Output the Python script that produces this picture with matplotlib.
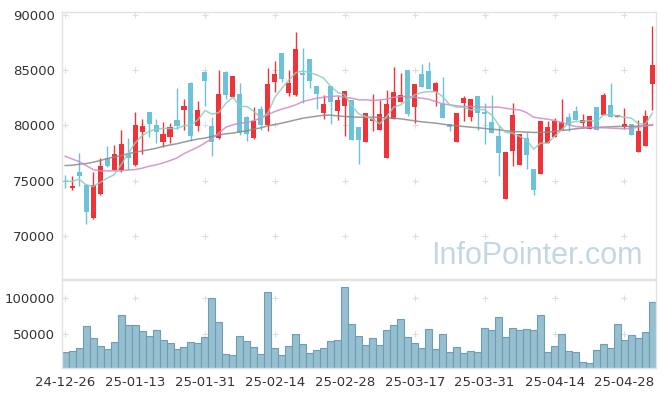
import numpy as np
import matplotlib
matplotlib.use("Agg")
import matplotlib.pyplot as plt

# Daily candles (open / high / low / close)
opens = [75000, 74300, 75800, 74650, 71600, 73800, 77080, 76000, 76000, 77450,
         76450, 79370, 81240, 80030, 78470, 78950, 80510, 81360, 83880, 79910,
         84870, 79970, 78860, 84870, 82620, 82860, 80750, 78860, 81480, 80060,
         83940, 86530, 82980, 82770, 84720, 85990, 83580, 81170, 83580, 81350,
         81780, 82320, 79880, 78460, 80450, 79550, 77020, 80630, 82170, 85030,
         81660, 84670, 84970, 83070, 81960, 80150, 78460, 82020, 80810, 82680,
         81200, 80330, 79070, 73350, 77650, 76390, 78890, 76060, 75640, 78400,
         78950, 79550, 80750, 81320, 80210, 79670, 81660, 80960, 81840, 80750,
         79850, 80120, 77590, 78160, 83760]
highs = [75550, 75400, 77500, 74700, 75800, 77050, 78100, 78230, 79600, 78900,
         81240, 80570, 81250, 80570, 80270, 80210, 83370, 82380, 83900, 82230,
         84900, 80800, 85020, 84960, 84480, 83820, 80900, 81660, 81720, 85170,
         85800, 86530, 85020, 88420, 86980, 86000, 83600, 82770, 83600, 82680,
         83130, 82350, 79900, 81110, 82830, 82320, 83220, 85270, 84730, 85050,
         83760, 85570, 85780, 83970, 84420, 80150, 81110, 82680, 82380, 82680,
         82020, 82770, 79910, 77620, 82020, 79250, 79370, 76060, 80390, 80450,
         80660, 82380, 81110, 81720, 81050, 80870, 81660, 82980, 83820, 80930,
         81540, 80120, 80510, 81410, 89000]
lows = [74350, 74200, 74560, 71100, 71500, 73700, 76240, 75950, 75750, 76000,
        76300, 77390, 78950, 78400, 78050, 78400, 79670, 79600, 78560, 79460,
        81780, 77200, 78800, 82380, 82620, 79160, 78560, 78800, 79610, 79460,
        83070, 83900, 82680, 82700, 82020, 83370, 81470, 80570, 80150, 80510,
        79010, 78650, 76510, 78460, 79460, 79550, 77020, 80630, 82170, 80870,
        80210, 83460, 83280, 81780, 80690, 79460, 78460, 80360, 80360, 79610,
        78280, 79310, 75450, 73350, 76300, 76390, 76060, 73740, 75640, 78400,
        78950, 79550, 79460, 80510, 79730, 79670, 79610, 80960, 80750, 80750,
        79670, 79100, 77590, 78160, 81410]
closes = [74900, 74500, 75400, 72150, 74650, 76350, 76360, 77450, 78350, 77030,
          80060, 79970, 80090, 79370, 79250, 79850, 79910, 81780, 79070, 81420,
          84030, 78470, 82860, 82770, 84480, 79310, 79190, 80450, 80060, 83760,
          84630, 84180, 83820, 86890, 84540, 84060, 82860, 81960, 82170, 82320,
          83130, 78650, 78650, 81110, 80600, 81050, 81960, 83040, 82770, 81050,
          83760, 83520, 83280, 83820, 80690, 79850, 81110, 82500, 82380, 81170,
          81080, 79310, 77470, 77620, 80930, 79250, 77320, 74130, 80390, 79850,
          80390, 80330, 80060, 80510, 80510, 80870, 79610, 82770, 80750, 80930,
          80150, 79100, 79520, 80870, 85480]

# Moving average lines as drawn on the chart
ma_short = [74990, 74930, 75140, 74630, 74480, 74840, 75230, 75530, 76430, 77450,
            78400, 79070, 79460, 79670, 79730, 79730, 79730, 79970, 80060, 80510,
            81360, 81020, 81180, 82020, 82560, 81720, 81720, 81270, 80670, 81120,
            82560, 83370, 84120, 84780, 84930, 84790, 84580, 84270, 83520, 83000,
            82770, 81780, 81050, 80810, 80570, 80150, 80810, 81660, 81870, 82320,
            82770, 82980, 83070, 83070, 82620, 81870, 81660, 81660, 81410, 81470,
            81410, 80960, 80060, 79370, 79310, 79010, 78710, 77860, 78400, 78400,
            79010, 79610, 80210, 80360, 80360, 80450, 80360, 80960, 80960, 80870,
            80750, 80660, 80150, 80150, 81110]
ma_mid = [77210, 76970, 76730, 76370, 76010, 75890, 75890, 75890, 75890, 75980,
          76010, 76130, 76310, 76430, 76610, 76820, 77060, 77450, 77750, 78050,
          78410, 78830, 79310, 79850, 80060, 80210, 80270, 80450, 80670, 80960,
          81270, 81480, 81660, 81870, 82170, 82320, 82470, 82560, 82620, 82680,
          82560, 82470, 82320, 82320, 82260, 82320, 82380, 82560, 82620, 82620,
          82560, 82470, 82380, 82170, 81960, 81870, 81780, 81720, 81720, 81660,
          81660, 81660, 81660, 81560, 81470, 81410, 81170, 80750, 80660, 80570,
          80450, 80270, 80060, 79910, 79850, 79850, 79790, 79790, 79760, 79730,
          79700, 79730, 79850, 79970, 80090]
ma_long = [76370, 76400, 76490, 76550, 76670, 76820, 77000, 77150, 77270, 77450,
           77570, 77690, 77810, 77930, 78110, 78230, 78350, 78500, 78650, 78770,
           78860, 79010, 79130, 79250, 79310, 79430, 79520, 79670, 79790, 79970,
           80090, 80210, 80360, 80510, 80660, 80750, 80840, 80930, 80930, 80870,
           80810, 80780, 80750, 80750, 80750, 80720, 80690, 80660, 80600, 80510,
           80420, 80330, 80270, 80210, 80120, 80030, 79970, 79910, 79850, 79790,
           79730, 79670, 79610, 79520, 79460, 79430, 79400, 79370, 79370, 79400,
           79460, 79550, 79610, 79700, 79760, 79790, 79820, 79850, 79880, 79910,
           79910, 79910, 79940, 79970, 80030]

volumes = [25470, 26850, 31020, 61120, 44450, 33340, 29630, 39360, 76400, 62500,
           62500, 54630, 47690, 55560, 42130, 37500, 29630, 32410, 39360, 37970,
           45840, 100000, 67140, 22220, 20840, 47230, 40740, 32410, 22220, 108340,
           31020, 20840, 33340, 50000, 36580, 23610, 28240, 31020, 40740, 42130,
           115290, 64360, 47230, 34730, 44450, 34730, 55560, 62500, 70840, 45840,
           37500, 30560, 56950, 29630, 50000, 25000, 31950, 23610, 26390, 25000,
           58340, 55560, 73620, 45840, 58340, 55560, 56950, 55560, 76400, 25000,
           33340, 50000, 26390, 25000, 11110, 9720, 27780, 36110, 30560, 63890,
           41670, 48610, 44450, 52780, 94450]

date_ticks = [0, 10, 20, 30, 40, 50, 60, 70, 80]
date_labels = ["24-12-26", "25-01-13", "25-01-31", "25-02-14", "25-02-28",
               "25-03-17", "25-03-31", "25-04-14", "25-04-28"]
price_ticks = [70000, 75000, 80000, 85000, 90000]
volume_ticks = [50000, 100000]

UP = "#ef3338"
DOWN = "#6cc3d9"
FRAME = "#e2e2e2"
TEXT = "#333333"

o = np.array(opens)
h = np.array(highs)
l = np.array(lows)
c = np.array(closes)
x = np.arange(len(o))
colors = [UP if cc >= oo else DOWN for oo, cc in zip(o, c)]

fig = plt.figure(figsize=(6.65, 3.97), dpi=100)
ax = fig.add_axes([0.0932, 0.2972, 0.8932, 0.6725])
axv = fig.add_axes([0.0932, 0.0730, 0.8932, 0.2217], sharex=ax)

# price candles
ax.vlines(x, l, h, colors=colors, linewidth=1.0, zorder=2)
body_bottom = np.minimum(o, c)
body_height = np.maximum(np.abs(c - o), 60)
ax.bar(x, body_height, bottom=body_bottom, width=0.72, color=colors,
       linewidth=0, zorder=3)

# moving averages
ax.plot(x, ma_long, color="#8a8a8a", linewidth=1.1, alpha=0.85, zorder=4)
ax.plot(x, ma_mid, color="#cf8ac4", linewidth=1.1, alpha=0.85, zorder=4)
ax.plot(x, ma_short, color="#8ccdbf", linewidth=1.1, alpha=0.85, zorder=5)

ax.set_xlim(-0.45, 84.5)
ax.set_ylim(66100, 90270)
ax.set_yticks(price_ticks)
ax.set_yticklabels([str(t) for t in price_ticks])

# little "+" marks instead of grid lines
gx, gy = np.meshgrid(date_ticks, price_ticks)
ax.plot(gx.ravel(), gy.ravel(), linestyle="none", marker="+", markersize=4,
        color="#dddddd", markeredgewidth=0.8, zorder=1)

ax.text(0.80, 0.085, "InfoPointer.com", transform=ax.transAxes,
        ha="center", va="center", fontsize=22, color="#c3d7e3",
        family="Liberation Sans", zorder=6)

# volume bars
axv.bar(x, volumes, width=1.0, color="#96bfcf", edgecolor="#6e9eb5",
        linewidth=0.8, zorder=2)
axv.set_ylim(3000, 125500)
axv.set_yticks(volume_ticks)
axv.set_yticklabels([str(t) for t in volume_ticks])
gx, gy = np.meshgrid(date_ticks, volume_ticks)
axv.plot(gx.ravel(), gy.ravel(), linestyle="none", marker="+", markersize=4,
         color="#dddddd", markeredgewidth=0.8, zorder=1)
axv.set_xticks(date_ticks)
axv.set_xticklabels(date_labels)

for a in (ax, axv):
    for s in a.spines.values():
        s.set_color(FRAME)
        s.set_linewidth(1.0)
    a.tick_params(length=0, labelsize=9.5, colors=TEXT, pad=5)
ax.tick_params(axis="x", labelbottom=False)
axv.tick_params(axis="x", pad=6)

fig.savefig("out.png", dpi=100, facecolor="white")
